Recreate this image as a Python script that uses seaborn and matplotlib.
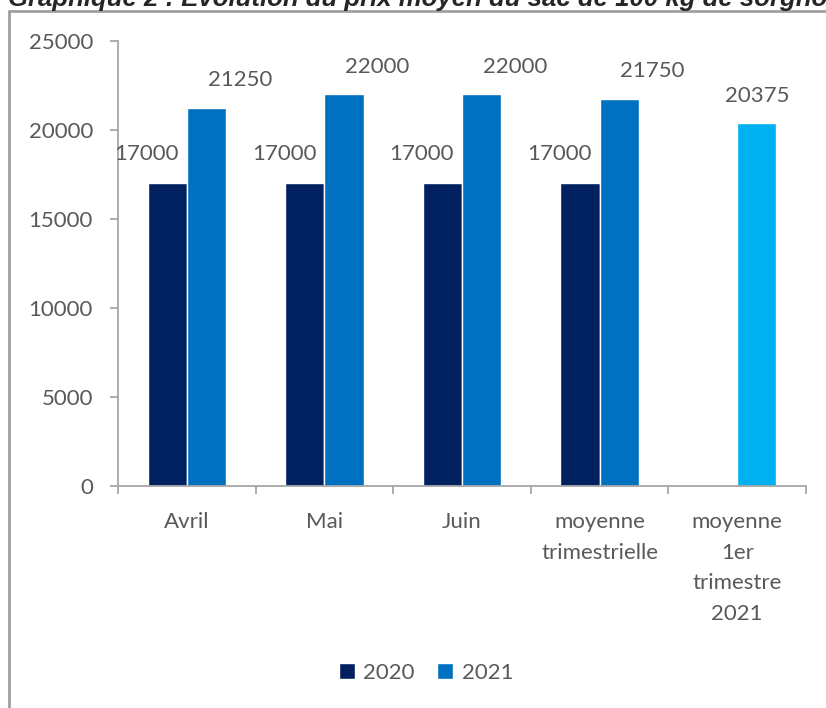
import matplotlib
matplotlib.use("Agg")
import matplotlib.pyplot as plt
import seaborn as sns
import pandas as pd
import numpy as np
from matplotlib.patches import Patch
from matplotlib.lines import Line2D

categories = ["Avril", "Mai", "Juin", "moyenne\ntrimestrielle", "moyenne\n1er\ntrimestre\n2021"]
values_2020 = [17000, 17000, 17000, 17000, np.nan]
values_2021 = [21250, 22000, 22000, 21750, 20375]
series = ["2020", "2021"]
title = "Graphique 2 : Evolution du prix moyen du sac de 100 kg de sorgho"

c2020 = "#002060"
c2021 = "#0070C0"
c_last = "#00B0F0"
txt = "#595959"
axc = "#A6A6A6"
fs = 16

sns.set_theme(style="white")
plt.rcParams["font.family"] = ["Lato", "DejaVu Sans"]

df = pd.DataFrame({
    "cat": categories * 2,
    "year": [series[0]] * 5 + [series[1]] * 5,
    "val": values_2020 + values_2021,
})

fig = plt.figure(figsize=(8.26, 7.08), dpi=100)
ax = fig.add_axes([118 / 826, 1 - 486 / 708, (806 - 118) / 826, (486 - 41) / 708])

sns.barplot(data=df.dropna(), x="cat", y="val", hue="year", order=categories,
            hue_order=series, palette=[c2020, c2021], width=0.57, ax=ax,
            saturation=1, legend=False, err_kws={"linewidth": 0})

ax.set_xlim(-0.5, 4.5)
ax.set_ylim(0, 25000)
ax.set_yticks(range(0, 25001, 5000))
ax.set_xlabel("")
ax.set_ylabel("")

c0, c1 = ax.containers[0], ax.containers[1]
bars1 = list(c1)
bars1[-1].set_facecolor(c_last)
for b in c0:
    h = b.get_height()
    if np.isnan(h) or h == 0:
        continue
    ax.annotate(f"{int(h)}", (b.get_x() + b.get_width() / 2, h), xytext=(-15, 21.5),
                textcoords="offset points", ha="center", va="center", fontsize=fs, color=txt)
for i, b in enumerate(bars1):
    h = b.get_height()
    dx = 0 if i == len(bars1) - 1 else 24
    ax.annotate(f"{int(h)}", (b.get_x() + b.get_width() / 2, h), xytext=(dx, 20),
                textcoords="offset points", ha="center", va="center", fontsize=fs, color=txt)

for s in ["top", "right"]:
    ax.spines[s].set_visible(False)
for s in ["left", "bottom"]:
    ax.spines[s].set_color(axc)
    ax.spines[s].set_linewidth(1.3)

ax.tick_params(axis="y", which="major", length=6, width=1.3, color=axc, labelsize=fs,
               labelcolor=txt, pad=12, left=True, direction="out")
ax.set_xticks(range(len(categories)))
ax.set_xticklabels(categories, linespacing=1.65)
ax.tick_params(axis="x", which="major", length=0, labelsize=fs, labelcolor=txt, pad=19)
ax.set_xticks(np.arange(-0.5, 5, 1), minor=True)
ax.tick_params(axis="x", which="minor", length=6, width=1.3, color=axc, bottom=True, direction="out")

handles = [Patch(facecolor=c2020, label="2020"), Patch(facecolor=c2021, label="2021")]
leg = fig.legend(handles=handles, loc="center", bbox_to_anchor=(426 / 826, 1 - 673 / 708),
                 ncol=2, frameon=False, fontsize=fs, handlelength=0.7, handleheight=0.7,
                 handletextpad=0.4, columnspacing=1.0)
for t in leg.get_texts():
    t.set_color(txt)

fig.add_artist(Line2D([9 / 826, 9 / 826], [0, 1 - 11 / 708], transform=fig.transFigure,
                      color="#A0A0A0", linewidth=2))
fig.add_artist(Line2D([9 / 826, 1], [1 - 11 / 708, 1 - 11 / 708], transform=fig.transFigure,
                      color="#A0A0A0", linewidth=2))

fig.text(8 / 826, 1 + 1 / 708, title, ha="left", va="center", fontsize=18.5,
         fontweight="bold", fontstyle="italic", color="#262626",
         family=["Liberation Sans", "DejaVu Sans"])

fig.savefig("out.png", dpi=100)
